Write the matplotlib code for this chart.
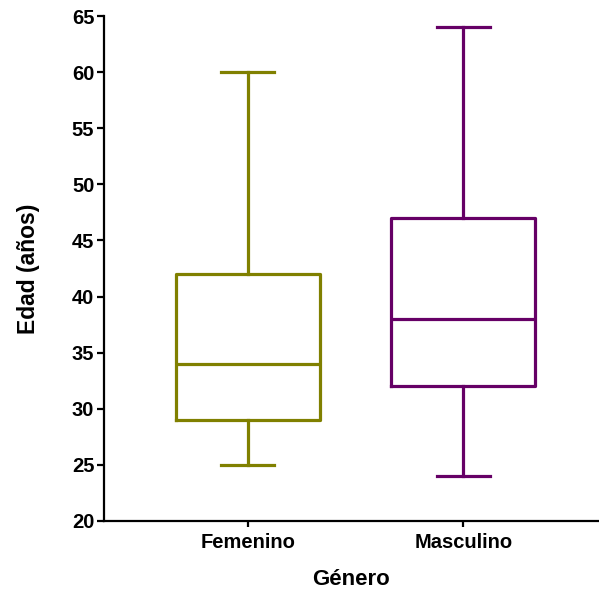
import matplotlib
matplotlib.use("Agg")
import matplotlib.pyplot as plt

categories = ["Femenino", "Masculino"]
whisker_low = [25, 24]
q1 = [29, 32]
median = [34, 38]
q3 = [42, 47]
whisker_high = [60, 64]
colors = ["#808000", "#660066"]

plt.rcParams['font.family'] = ['Liberation Sans', 'DejaVu Sans']
plt.rcParams['font.weight'] = 'bold'

fig = plt.figure(figsize=(5.99, 5.9), dpi=100)
ax = fig.add_axes([104/599, 69/590, 494/599, 505/590])

stats = []
for i, c in enumerate(categories):
    stats.append(dict(label=c, whislo=whisker_low[i], q1=q1[i], med=median[i],
                      q3=q3[i], whishi=whisker_high[i], fliers=[]))

positions = [1, 2]
bp = ax.bxp(stats, positions=positions, widths=0.667, showfliers=False, patch_artist=False)
for i in range(len(categories)):
    col = colors[i]
    lw = 2.3
    bp['boxes'][i].set(color=col, linewidth=lw)
    bp['medians'][i].set(color=col, linewidth=lw)
    for w in bp['whiskers'][2*i:2*i+2]:
        w.set(color=col, linewidth=lw)
    for cp in bp['caps'][2*i:2*i+2]:
        cp.set(color=col, linewidth=lw)
        xd = cp.get_xdata()
        cx = (xd[0] + xd[1]) / 2
        cp.set_xdata([cx - 0.123, cx + 0.123])

ax.set_xlim(0.333, 2.625)
ax.set_ylim(20, 65)
ax.set_yticks(range(20, 66, 5))
ax.set_xticks(positions)
ax.set_xticklabels(categories)
for s in ['top', 'right']:
    ax.spines[s].set_visible(False)
for s in ['left', 'bottom']:
    ax.spines[s].set_linewidth(1.6)
ax.tick_params(axis='both', width=1.6, length=5, labelsize=14.5, direction='out')
ax.tick_params(axis='x', length=4, pad=5)
ax.tick_params(axis='y', pad=2)
ax.set_ylabel("Edad (años)", fontsize=16.5, fontweight='bold', labelpad=23)
ax.set_xlabel("Género", fontsize=16, fontweight='bold', labelpad=12)

fig.savefig("out.png", dpi=100)
